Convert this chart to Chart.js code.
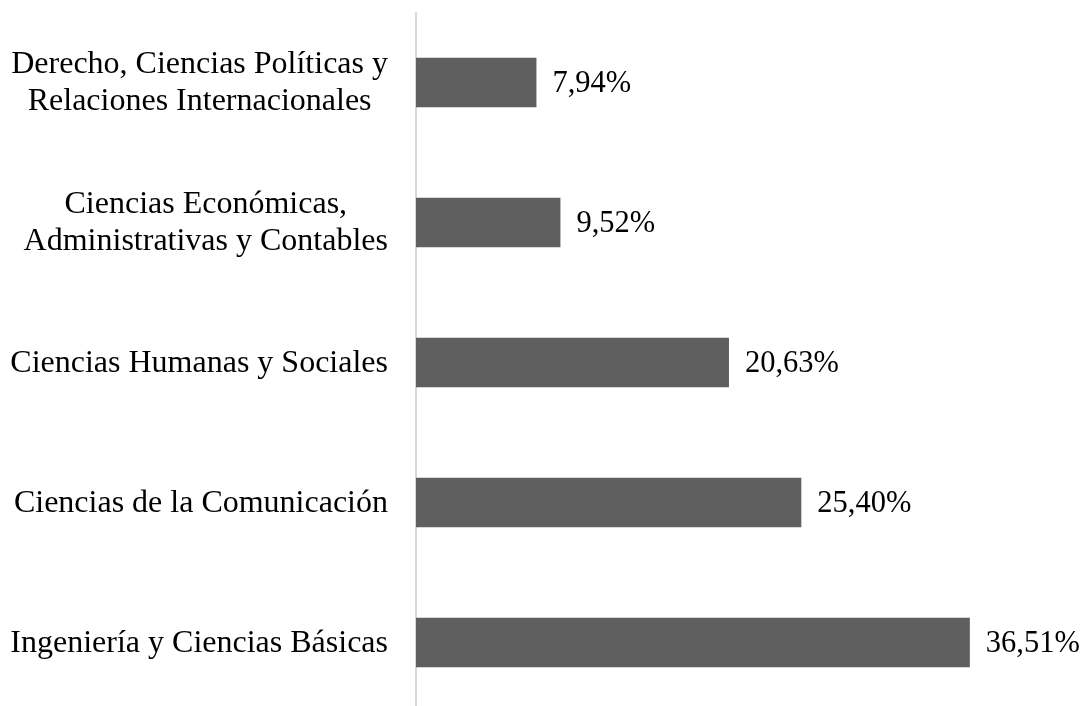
<!DOCTYPE html>
<html lang="es">
<head>
    <meta charset="utf-8">
    <title>Áreas</title>
    <script src="https://cdn.jsdelivr.net/npm/chart.js"></script>
    <style>
        html, body { margin: 0; padding: 0; background: #fff; overflow: hidden; }
        .chart-container { position: relative; width: 1085px; height: 716px; }
    </style>
</head>
<body>
    <div class="chart-container">
        <canvas id="myChart"></canvas>
    </div>
    <script>
        // datos del gráfico
        const areas = [
            ['Derecho, Ciencias Políticas y', 'Relaciones Internacionales'],
            ['Ciencias Económicas,', 'Administrativas y Contables'],
            ['Ciencias Humanas y Sociales'],
            ['Ciencias de la Comunicación'],
            ['Ingeniería y Ciencias Básicas']
        ];
        const porcentajes = [7.94, 9.52, 20.63, 25.40, 36.51];

        const fuente = '"Liberation Serif", "Times New Roman", serif';

        // etiquetas de categoría: bloque alineado a la derecha, líneas centradas
        const areaLabels = {
            id: 'areaLabels',
            afterDraw(chart) {
                const ctx = chart.ctx;
                const yScale = chart.scales.y;
                const lineH = 37;
                ctx.save();
                ctx.font = '32px ' + fuente;
                ctx.fillStyle = '#000';
                ctx.textAlign = 'center';
                ctx.textBaseline = 'middle';
                areas.forEach((lines, i) => {
                    const yc = yScale.getPixelForTick(i);
                    const widest = Math.max(...lines.map(l => ctx.measureText(l).width));
                    const xc = 388 - widest / 2;
                    const y0 = yc - (lines.length - 1) * lineH / 2;
                    lines.forEach((l, j) => ctx.fillText(l, xc, y0 + j * lineH + 1));
                });
                ctx.restore();
            }
        };

        // etiquetas de valor al final de cada barra
        const valueLabels = {
            id: 'valueLabels',
            afterDatasetsDraw(chart) {
                const ctx = chart.ctx;
                const meta = chart.getDatasetMeta(0);
                ctx.save();
                ctx.font = '30.5px ' + fuente;
                ctx.fillStyle = '#000';
                ctx.textAlign = 'left';
                ctx.textBaseline = 'middle';
                meta.data.forEach((bar, i) => {
                    const txt = porcentajes[i].toFixed(2).replace('.', ',') + '%';
                    ctx.fillText(txt, bar.x + 16, bar.y + 1);
                });
                ctx.restore();
            }
        };

        new Chart(document.getElementById('myChart'), {
            type: 'bar',
            data: {
                labels: areas,
                datasets: [{
                    data: porcentajes,
                    backgroundColor: '#5f5f5f',
                    borderWidth: 0,
                    categoryPercentage: 1,
                    barPercentage: 0.354
                }]
            },
            options: {
                indexAxis: 'y',
                responsive: true,
                maintainAspectRatio: false,
                animation: false,
                layout: { padding: { top: 12.5, bottom: 3.5, left: 0, right: 0 } },
                plugins: {
                    legend: { display: false },
                    tooltip: { enabled: false }
                },
                scales: {
                    x: {
                        display: false,
                        min: 0,
                        max: 44.1
                    },
                    y: {
                        grid: { display: false, drawTicks: false },
                        border: { display: true, color: '#d9d9d9', width: 2 },
                        ticks: { display: false },
                        afterFit(scale) {
                            scale.width = 416;
                        }
                    }
                }
            },
            plugins: [valueLabels, areaLabels]
        });
    </script>
</body>
</html>
